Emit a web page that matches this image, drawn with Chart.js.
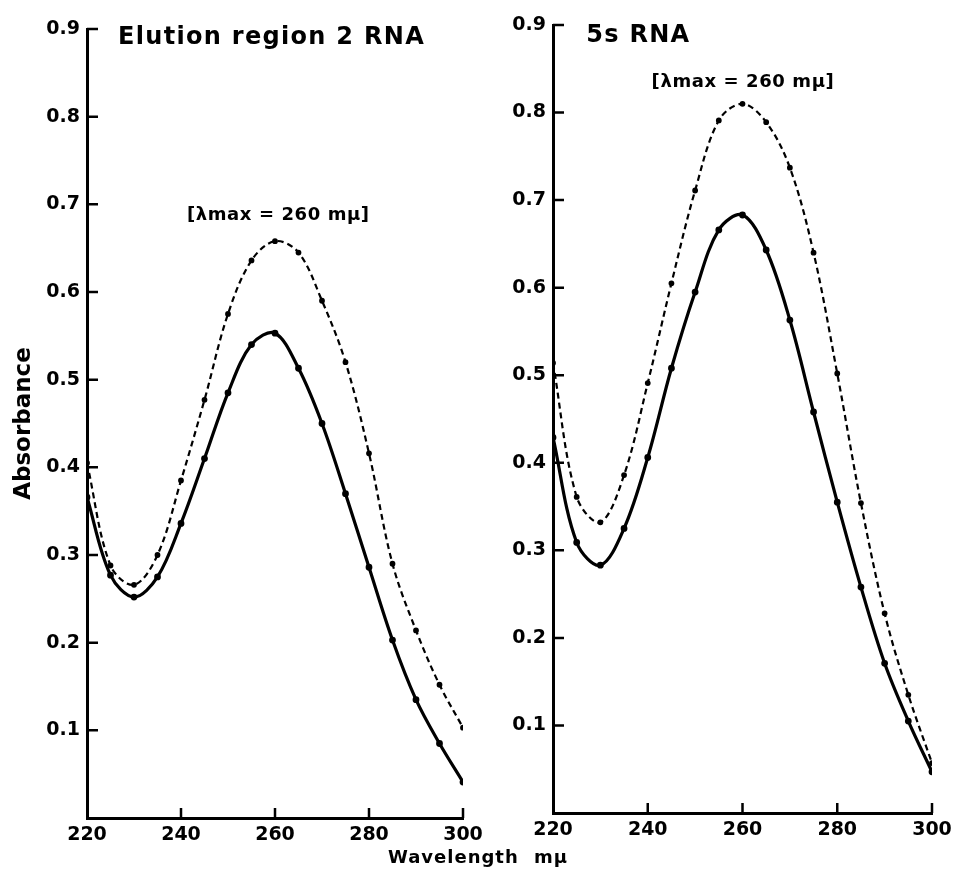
<!DOCTYPE html>
<html>
<head>
<meta charset="utf-8">
<script src="https://cdn.jsdelivr.net/npm/chart.js@4.4.1/dist/chart.umd.min.js"></script>
<style>
  body { margin: 0; background: #fff; width: 964px; height: 878px; position: relative; overflow: hidden; }
  .panel { position: absolute; top: 0; width: 482px; height: 878px; }
  #xlabel { position: absolute; left: 0; width: 956px; top: 846px; text-align: center;
            font: bold 18px "DejaVu Sans", sans-serif; letter-spacing: 1px; word-spacing: 8px; color: #000; }
</style>
</head>
<body>
<div class="panel" style="left:0"><canvas id="chartLeft"></canvas></div>
<div class="panel" style="left:482px"><canvas id="chartRight"></canvas></div>
<div id="xlabel">Wavelength mμ</div>
<script>
// wavelength (mμ), one reading every 5
const wavelengths = [220, 225, 230, 235, 240, 245, 250, 255, 260, 265, 270, 275, 280, 285, 290, 295, 300];

// Elution region 2 RNA
const elutionSolid  = [0.366, 0.277, 0.252, 0.275, 0.336, 0.410, 0.485, 0.540, 0.553, 0.513, 0.450, 0.370, 0.286, 0.203, 0.135, 0.085, 0.041];
const elutionDashed = [0.405, 0.288, 0.266, 0.300, 0.385, 0.477, 0.575, 0.636, 0.658, 0.645, 0.590, 0.520, 0.416, 0.290, 0.214, 0.152, 0.103];

// 5s RNA
const rna5sSolid  = [0.429, 0.309, 0.283, 0.325, 0.406, 0.508, 0.595, 0.666, 0.683, 0.643, 0.563, 0.458, 0.355, 0.258, 0.171, 0.105, 0.047];
const rna5sDashed = [0.514, 0.361, 0.332, 0.386, 0.491, 0.605, 0.711, 0.791, 0.810, 0.789, 0.737, 0.640, 0.502, 0.354, 0.228, 0.135, 0.057];

const xTickStep = 20;
const yTickStep = 0.1;
const yMax = 0.9;

const FONT = '"DejaVu Sans", sans-serif';

// tick marks pointing into the plot, like the original
const innerTicks = {
  id: 'innerTicks',
  afterDraw(chart) {
    const { ctx, scales: { x, y } } = chart;
    ctx.save();
    ctx.strokeStyle = '#000';
    ctx.lineWidth = 2.5;
    ctx.beginPath();
    y.ticks.forEach(t => {
      if (t.value > 0) {
        const py = y.getPixelForValue(t.value);
        ctx.moveTo(x.left, py);
        ctx.lineTo(x.left + 11, py);
      }
    });
    x.ticks.forEach(t => {
      if (t.value > x.min) {
        const px = x.getPixelForValue(t.value);
        ctx.moveTo(px, y.bottom);
        ctx.lineTo(px, y.bottom - 10);
      }
    });
    ctx.stroke();
    ctx.restore();
  }
};

// panel title and the λmax note
const panelText = {
  id: 'panelText',
  afterDraw(chart, args, opts) {
    const { ctx, scales: { x, y } } = chart;
    ctx.save();
    ctx.fillStyle = '#000';
    ctx.textBaseline = 'middle';
    ctx.font = 'bold 24px ' + FONT;
    ctx.letterSpacing = '1.3px';
    ctx.textAlign = 'left';
    ctx.fillText(opts.title, x.getPixelForValue(opts.titleAt[0]), y.getPixelForValue(opts.titleAt[1]));
    ctx.font = 'bold 18px ' + FONT;
    ctx.letterSpacing = '0.6px';
    ctx.textAlign = 'center';
    ctx.fillText(opts.note, x.getPixelForValue(opts.noteAt[0]), y.getPixelForValue(opts.noteAt[1]));
    ctx.restore();
  }
};

function series(values, dashed) {
  return {
    data: wavelengths.map((w, i) => ({ x: w, y: values[i] })),
    borderColor: '#000',
    backgroundColor: '#000',
    borderWidth: dashed ? 2.2 : 3.2,
    borderDash: dashed ? [6, 4] : [],
    pointRadius: 1.8,
    pointHoverRadius: 0,
    tension: 0.35,
    fill: false
  };
}

function makeChart(id, solid, dashed, cfg) {
  const ctx = document.getElementById(id).getContext('2d');
  return new Chart(ctx, {
    type: 'line',
    data: { datasets: [series(dashed, true), series(solid, false)] },
    options: {
      responsive: true,
      maintainAspectRatio: false,
      animation: false,
      events: [],
      layout: { padding: cfg.padding },
      plugins: {
        legend: { display: false },
        tooltip: { enabled: false },
        panelText: cfg.text
      },
      scales: {
        x: {
          type: 'linear',
          min: wavelengths[0],
          max: wavelengths[wavelengths.length - 1],
          grid: { display: false, drawTicks: false },
          border: { display: true, color: '#000', width: 3 },
          ticks: { stepSize: xTickStep, color: '#000', padding: 6, maxRotation: 0,
                   font: { family: FONT, size: 19, weight: 'bold' } },
          afterFit: s => { s.height = cfg.xHeight; s.paddingLeft = 0; s.paddingRight = 0; }
        },
        y: {
          min: 0,
          max: yMax,
          grid: { display: false, drawTicks: false },
          border: { display: true, color: '#000', width: 3 },
          ticks: { stepSize: yTickStep, color: '#000', padding: 7,
                   font: { family: FONT, size: 19, weight: 'bold' },
                   callback: v => (v < 0.001 ? '' : v.toFixed(1)) },
          title: cfg.yTitle,
          afterFit: s => { s.width = cfg.yWidth; s.paddingTop = 0; s.paddingBottom = 0; }
        }
      }
    },
    plugins: [innerTicks, panelText]
  });
}

makeChart('chartLeft', elutionSolid, elutionDashed, {
  padding: { left: 0, right: 19, top: 29, bottom: 0 },
  xHeight: 60,
  yWidth: 87,
  yTitle: { display: true, text: 'Absorbance', color: '#000', padding: { top: 10, bottom: 0 },
            font: { family: FONT, size: 23, weight: 'bold' } },
  text: { title: 'Elution region 2 RNA', titleAt: [226.6, 0.89],
          note: '[λmax = 260 mμ]', noteAt: [260.7, 0.687] }
});

makeChart('chartRight', rna5sSolid, rna5sDashed, {
  padding: { left: 0, right: 32, top: 25, bottom: 0 },
  xHeight: 65,
  yWidth: 71,
  yTitle: { display: false },
  text: { title: '5s RNA', titleAt: [227, 0.888],
          note: '[λmax = 260 mμ]', noteAt: [260.1, 0.834] }
});
</script>
</body>
</html>
